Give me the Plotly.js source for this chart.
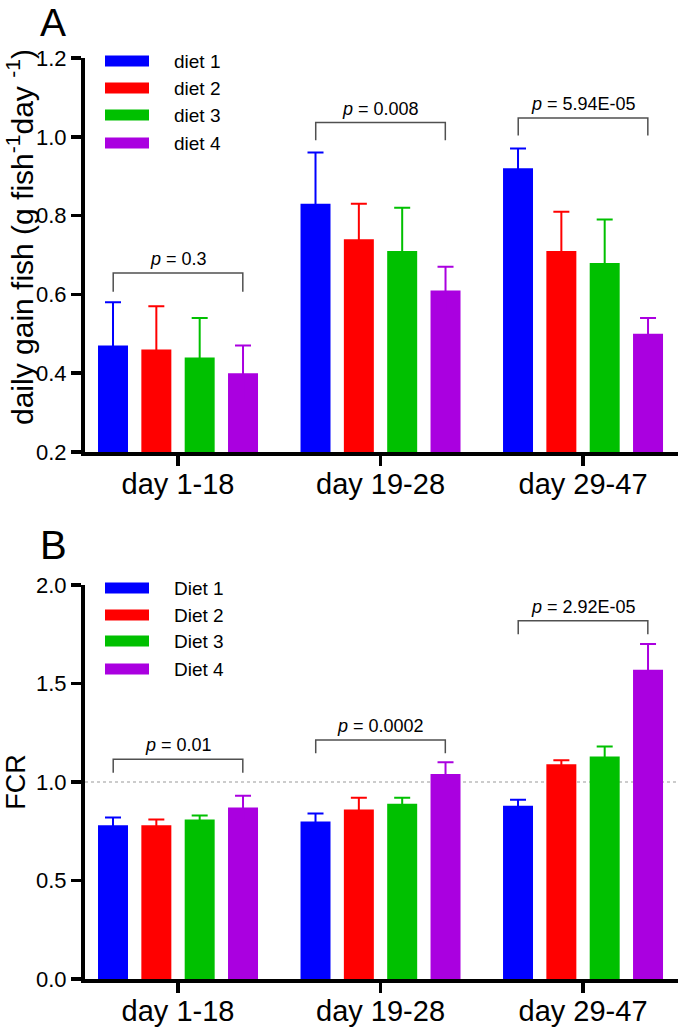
<!DOCTYPE html>
<html>
<head>
<meta charset="utf-8">
<script src="https://cdn.plot.ly/plotly-3.0.1.min.js"></script>
<style>html,body{margin:0;padding:0;background:#fff;}</style>
</head>
<body>
<div id="chart" style="width:680px;height:1029px;"></div>
<script>
// ---------- data ----------
const categories = ['day 1-18', 'day 19-28', 'day 29-47'];
const namesA = ['diet 1', 'diet 2', 'diet 3', 'diet 4'];
const namesB = ['Diet 1', 'Diet 2', 'Diet 3', 'Diet 4'];

// Panel A: daily gain (mean) and SD
const gainDiet1 = [0.47, 0.83, 0.92];
const gainDiet2 = [0.46, 0.74, 0.71];
const gainDiet3 = [0.44, 0.71, 0.68];
const gainDiet4 = [0.40, 0.61, 0.50];
const gainSd1 = [0.11, 0.13, 0.05];
const gainSd2 = [0.11, 0.09, 0.10];
const gainSd3 = [0.10, 0.11, 0.11];
const gainSd4 = [0.07, 0.06, 0.04];

// Panel B: FCR (mean) and SD
const fcrDiet1 = [0.78, 0.80, 0.88];
const fcrDiet2 = [0.78, 0.86, 1.09];
const fcrDiet3 = [0.81, 0.89, 1.13];
const fcrDiet4 = [0.87, 1.04, 1.57];
const fcrSd1 = [0.04, 0.04, 0.03];
const fcrSd2 = [0.03, 0.06, 0.02];
const fcrSd3 = [0.02, 0.03, 0.05];
const fcrSd4 = [0.06, 0.06, 0.13];

// p-values
const pA = ['0.3', '0.008', '5.94E-05'];
const pB = ['0.01', '0.0002', '2.92E-05'];

// axis titles
const titleA = 'daily gain fish (g fish<sup>-1</sup>day <sup>-1</sup>)';
const titleB = 'FCR';

// ---------- styling ----------
const colors = ['#0000FF', '#FF0000', '#00C000', '#AA00E0'];
const FONT = 'Liberation Sans, Arial, Helvetica, sans-serif';
const W = 680, H = 1029;
const px2x = p => p / W;
const px2y = p => 1 - p / H;

// bracket heights (data units): [top, leg end]
const bracketA = [[0.654, 0.607], [1.036, 0.991], [1.048, 1.003]];
const bracketB = [[1.115, 1.047], [1.213, 1.146], [1.819, 1.750]];
const bracketHalf = 0.32;

const xIdx = categories.map((c, i) => i);

function barTrace(y, sd, i, xa, ya) {
  return {
    type: 'bar', x: xIdx, y: y, name: (xa === 'x' ? namesA : namesB)[i],
    xaxis: xa, yaxis: ya, showlegend: false,
    marker: {color: colors[i], line: {width: 0}},
    error_y: {type: 'data', array: sd, symmetric: true,
              color: colors[i], thickness: 2, width: 8},
    hoverinfo: 'skip'
  };
}

const gainMeans = [gainDiet1, gainDiet2, gainDiet3, gainDiet4];
const gainSds = [gainSd1, gainSd2, gainSd3, gainSd4];
const fcrMeans = [fcrDiet1, fcrDiet2, fcrDiet3, fcrDiet4];
const fcrSds = [fcrSd1, fcrSd2, fcrSd3, fcrSd4];

const traces = [];
gainMeans.forEach((m, i) => traces.push(barTrace(m, gainSds[i], i, 'x', 'y')));
fcrMeans.forEach((m, i) => traces.push(barTrace(m, fcrSds[i], i, 'x2', 'y2')));

const shapes = [];
const annotations = [];

function addBrackets(br, pv, xref, yref) {
  br.forEach((b, i) => {
    const x0 = i - bracketHalf, x1 = i + bracketHalf;
    shapes.push({type: 'path', xref: xref, yref: yref,
      path: `M ${x0},${b[1]} L ${x0},${b[0]} L ${x1},${b[0]} L ${x1},${b[1]}`,
      line: {color: '#505050', width: 1.5}});
    annotations.push({xref: xref, yref: yref, x: i, y: b[0], yanchor: 'bottom',
      yshift: 2, showarrow: false, text: '<i>p</i> = ' + pv[i],
      font: {family: FONT, size: 18, color: '#000'}});
  });
}
addBrackets(bracketA, pA, 'x', 'y');
addBrackets(bracketB, pB, 'x2', 'y2');

// reference line at FCR = 1
shapes.push({type: 'line', xref: 'x2 domain', yref: 'y2', x0: 0, x1: 1, y0: 1, y1: 1,
  line: {color: '#999999', width: 1, dash: 'dot'}, layer: 'below'});

// custom legends (wide swatches)
function addLegend(names, yCenters) {
  names.forEach((n, i) => {
    shapes.push({type: 'rect', xref: 'paper', yref: 'paper',
      x0: px2x(105), x1: px2x(149), y0: px2y(yCenters[i] + 5.5), y1: px2y(yCenters[i] - 5.5),
      fillcolor: colors[i], line: {width: 0}});
    annotations.push({xref: 'paper', yref: 'paper', x: px2x(172), y: px2y(yCenters[i]),
      xanchor: 'left', yanchor: 'middle', showarrow: false, text: n,
      font: {family: FONT, size: 19, color: '#000'}});
  });
}
addLegend(namesA, [61, 88, 115, 143]);
addLegend(namesB, [588, 615, 641, 669]);

// panel letters
annotations.push({xref: 'paper', yref: 'paper', x: px2x(53), y: 1, xanchor: 'center',
  yanchor: 'top', borderpad: 0, showarrow: false, text: 'A',
  font: {family: FONT, size: 39, color: '#000'}});
annotations.push({xref: 'paper', yref: 'paper', x: px2x(53), y: px2y(545), xanchor: 'center',
  yanchor: 'middle', showarrow: false, text: 'B', font: {family: FONT, size: 40, color: '#000'}});

// y title of panel A (placed to match the reference position)
annotations.push({xref: 'paper', yref: 'paper', x: px2x(20), y: px2y(237), xanchor: 'center',
  yanchor: 'middle', showarrow: false, textangle: -90, text: titleA,
  font: {family: FONT, size: 30, color: '#000'}});

const xRange = [-0.4593, 2.469];
const xDomain = [px2x(85), px2x(678)];

function xAxis(anchor) {
  return {
    domain: xDomain, range: xRange, anchor: anchor,
    tickmode: 'array', tickvals: xIdx, ticktext: categories,
    showline: true, linewidth: 4, linecolor: '#000',
    ticks: 'outside', ticklen: 10, tickwidth: 3.5, tickcolor: '#000',
    ticklabelstandoff: -7,
    tickfont: {family: FONT, size: 29, color: '#000'},
    showgrid: false, zeroline: false, fixedrange: true
  };
}
function yAxis(anchor, domain, range, dtick) {
  return {
    domain: domain, range: range, anchor: anchor, dtick: dtick, tick0: 0,
    tickformat: '.1f',
    showline: true, linewidth: 4, linecolor: '#000',
    ticks: 'outside', ticklen: 10, tickwidth: 3.5, tickcolor: '#000',
    tickfont: {family: FONT, size: 22, color: '#000'},
    showgrid: false, zeroline: false, fixedrange: true
  };
}

const yA = yAxis('x', [px2y(452), px2y(58)], [0.2, 1.2], 0.2);
const yB = yAxis('x2', [px2y(979), px2y(585)], [0, 2], 0.5);
yB.title = {text: titleB, font: {family: FONT, size: 27, color: '#000'}, standoff: 4};

const layout = {
  width: W, height: H,
  margin: {l: 0, r: 0, t: 0, b: 0},
  paper_bgcolor: '#fff', plot_bgcolor: '#fff',
  barmode: 'group', bargap: 0.144, bargroupgap: 0.308,
  showlegend: false,
  xaxis: xAxis('y'),
  yaxis: yA,
  xaxis2: xAxis('y2'),
  yaxis2: yB,
  shapes: shapes,
  annotations: annotations,
  font: {family: FONT, color: '#000'}
};

Plotly.newPlot('chart', traces, layout, {displayModeBar: false, staticPlot: true});
</script>
</body>
</html>
